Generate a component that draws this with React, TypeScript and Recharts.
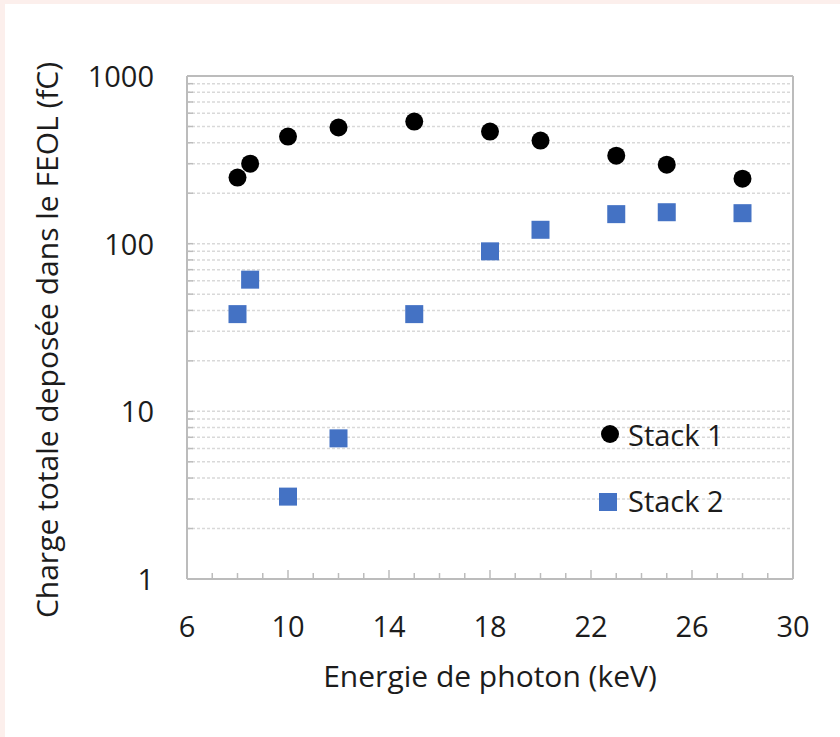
import React from "react"
import {
  ScatterChart,
  Scatter,
  XAxis,
  YAxis,
  CartesianGrid,
  ReferenceLine,
  Legend,
} from "recharts"

// energies in keV, charge in fC
const energies = [8, 8.5, 10, 12, 15, 18, 20, 23, 25, 28]
const stack1 = [248, 300, 435, 493, 535, 466, 412, 335, 296, 244]
const stack2 = [38, 61, 3.1, 6.9, 38, 90, 121, 150, 154, 152]

const xTicks = [6, 7, 8, 9, 10, 11, 12, 13, 14, 15, 16, 17, 18, 19, 20, 21, 22, 23, 24, 25, 26, 27, 28, 29, 30]
const xLabelTicks = [6, 10, 14, 18, 22, 26, 30]
const yTicks = [
  1, 2, 3, 4, 5, 6, 7, 8, 9,
  10, 20, 30, 40, 50, 60, 70, 80, 90,
  100, 200, 300, 400, 500, 600, 700, 800, 900,
  1000,
]
const yLabelTicks = [1, 10, 100, 1000]

const FONT = "'Open Sans', 'Noto Sans', sans-serif"
const TEXT = "#1c1c1c"
const AXIS = "#bcbcbc"
const BLUE = "#4472C4"

const s1 = energies.map((e, i) => ({ x: e, y: stack1[i] }))
const s2 = energies.map((e, i) => ({ x: e, y: stack2[i] }))

const XTick = (props: any) => {
  const { x, y, payload } = props
  const major = xLabelTicks.includes(payload.value)
  return (
    <g>
      <line x1={x} x2={x} y1={y} y2={y - (major ? 9 : 6)} stroke={AXIS} strokeWidth={1.5} />
      {major && (
        <text x={x} y={y + 58} textAnchor="middle" fontSize={29} fontFamily={FONT} fill={TEXT}>
          {payload.value}
        </text>
      )}
    </g>
  )
}

const YTick = (props: any) => {
  const { x, y, payload } = props
  const major = yLabelTicks.includes(payload.value)
  return (
    <g>
      <line x1={x} x2={x + 6} y1={y} y2={y} stroke={AXIS} strokeWidth={1.5} />
      {major && (
        <text x={x - 33} y={y + 11} textAnchor="end" fontSize={29} fontFamily={FONT} fill={TEXT}>
          {payload.value}
        </text>
      )}
    </g>
  )
}

const Dot = (props: any) => <circle cx={props.cx} cy={props.cy} r={9} fill="#000" />
const Square = (props: any) => (
  <rect x={props.cx - 9} y={props.cy - 9} width={18} height={18} fill={BLUE} />
)

const renderLegend = () => (
  <svg width={170} height={120}>
    <circle cx={20} cy={24} r={9} fill="#000" />
    <text x={38} y={36} fontSize={29} fontFamily={FONT} fill={TEXT}>Stack 1</text>
    <rect x={9} y={83} width={18} height={18} fill={BLUE} />
    <text x={38} y={102} fontSize={29} fontFamily={FONT} fill={TEXT}>Stack 2</text>
  </svg>
)

export default function App() {
  return (
    <div style={{ position: "absolute", left: 0, top: 0, width: 840, height: 737, background: "#fcefec", overflow: "hidden" }}>
      <div style={{ position: "absolute", left: 5, top: 4, width: 840, height: 740, background: "#fff" }} />
      <div style={{ position: "absolute", left: 0, top: 0 }}>
        <ScatterChart width={840} height={737} margin={{ top: 76, right: 47, bottom: 98, left: 87 }}>
          <CartesianGrid horizontal vertical={false} stroke="#d9d9d9" strokeDasharray="3 2" strokeWidth={1.5} />
          <XAxis
            type="number"
            dataKey="x"
            domain={[6, 30]}
            ticks={xTicks}
            interval={0}
            allowDataOverflow
            height={60}
            tickSize={0}
            tickMargin={0}
            tick={<XTick />}
            stroke={AXIS}
            strokeWidth={2}
            label={{
              content: (p: any) => (
                <text x={p.viewBox.x + p.viewBox.width / 2} y={687} textAnchor="middle" fontSize={30} fontFamily={FONT} fill={TEXT}>
                  Energie de photon (keV)
                </text>
              ),
            }}
          />
          <YAxis
            type="number"
            dataKey="y"
            scale="log"
            domain={[1, 1000]}
            ticks={yTicks}
            interval={0}
            allowDataOverflow
            width={100}
            tickSize={0}
            tickMargin={0}
            tick={<YTick />}
            stroke={AXIS}
            strokeWidth={2}
            label={{
              content: () => (
                <text transform="translate(58, 340) rotate(-90)" textAnchor="middle" fontSize={30} fontFamily={FONT} fill={TEXT}>
                  Charge totale deposée dans le FEOL (fC)
                </text>
              ),
            }}
          />
          <ReferenceLine y={1000} stroke={AXIS} strokeWidth={2} />
          <ReferenceLine x={30} stroke={AXIS} strokeWidth={2} />
          <Legend
            layout="horizontal"
            verticalAlign="middle"
            align="center"
            content={renderLegend}
            wrapperStyle={{ position: "absolute", left: 590, top: 410, width: 170, height: 120 }}
          />
          <Scatter name="Stack 1" data={s1} shape={<Dot />} isAnimationActive={false} />
          <Scatter name="Stack 2" data={s2} shape={<Square />} isAnimationActive={false} />
        </ScatterChart>
      </div>
    </div>
  )
}
